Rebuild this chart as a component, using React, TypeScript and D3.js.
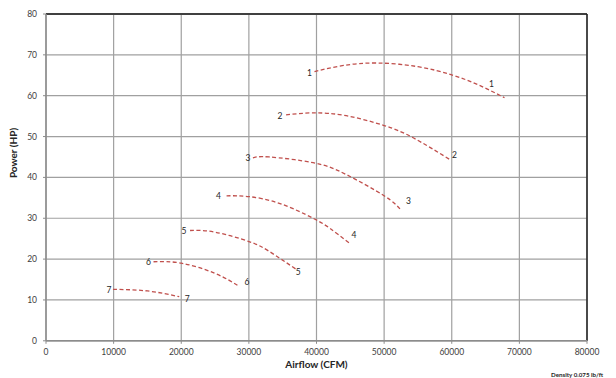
import React from "react";
import * as d3 from "d3";

const xTicks = [0, 10000, 20000, 30000, 40000, 50000, 60000, 70000, 80000];
const yTicks = [0, 10, 20, 30, 40, 50, 60, 70, 80];
const curveNames = ["1", "2", "3", "4", "5", "6", "7"];
const curveX = [
  [39700, 44000, 49000, 55000, 60000, 64000, 67800],
  [35500, 39500, 44400, 50000, 54300, 59800],
  [30600, 33000, 39500, 44400, 50000, 52400],
  [26700, 30000, 34600, 39500, 42000, 44800],
  [21300, 25000, 30000, 33000, 37000],
  [15900, 20000, 25000, 28400],
  [9900, 15000, 19700],
];
const curveY = [
  [65.9, 67.4, 68.0, 67.1, 65.1, 62.6, 59.5],
  [55.3, 55.8, 55.1, 52.7, 49.7, 44.3],
  [44.8, 45.0, 43.6, 40.7, 35.5, 32.2],
  [35.5, 35.3, 33.6, 30.0, 27.5, 24.0],
  [27.0, 26.6, 24.3, 21.9, 17.5],
  [19.35, 19.0, 16.5, 13.5],
  [12.6, 12.2, 10.8],
];

// label placement (pixel offsets, layout only)
const startLabelDx = [-5, -6, -5, -8, -6, -5, -4];
const startLabelDy = [1, 1, 0, 0, 0, 0, 1];
const endLabelDx = [-13, 4, 8, 5, 2, 9, 8];
const endLabelDy = [-14, -5, -8, -8, 3, -4, 2];

const W = 616, H = 378;
const left = 46, right = 587, top = 14, bottom = 340.8;

export default function App() {
  const x = d3.scaleLinear().domain([0, 80000]).range([left, right]);
  const y = d3.scaleLinear().domain([0, 80]).range([bottom, top]);
  const line = d3
    .line<[number, number]>()
    .x((d) => x(d[0]))
    .y((d) => y(d[1]))
    .curve(d3.curveNatural);
  const font = "Lato, 'Open Sans', sans-serif";
  return (
    <svg
      width={W}
      height={H}
      style={{ position: "fixed", left: 0, top: 0, background: "#fff" }}
      fontFamily={font}
    >
      {xTicks.map((t) => (
        <line key={"gx" + t} x1={x(t)} x2={x(t)} y1={top} y2={bottom} stroke="#a0a0a0" strokeWidth={1.2} />
      ))}
      {yTicks.map((t) => (
        <line key={"gy" + t} x1={left} x2={right} y1={y(t)} y2={y(t)} stroke="#a0a0a0" strokeWidth={1.2} />
      ))}
      <line x1={left} x2={right} y1={top} y2={top} stroke="#404040" strokeWidth={2} />
      <line x1={right} x2={right} y1={top} y2={bottom} stroke="#202020" strokeWidth={1.5} />
      <line x1={left} x2={left} y1={top} y2={bottom} stroke="#8c8c8c" strokeWidth={1.5} />
      <line x1={left} x2={right} y1={bottom} y2={bottom} stroke="#8c8c8c" strokeWidth={1.5} />
      {xTicks.map((t) => (
        <line key={"tx" + t} x1={x(t)} x2={x(t)} y1={bottom} y2={bottom + 3} stroke="#8c8c8c" />
      ))}
      {yTicks.map((t) => (
        <line key={"ty" + t} x1={left - 3} x2={left} y1={y(t)} y2={y(t)} stroke="#8c8c8c" />
      ))}
      {xTicks.map((t) => (
        <text key={"lx" + t} x={x(t)} y={bottom + 14} fontSize={8.5} fill="#404040" textAnchor="middle">
          {t}
        </text>
      ))}
      {yTicks.map((t) => (
        <text key={"ly" + t} x={left - 9} y={y(t) + 3} fontSize={8.5} fill="#404040" textAnchor="end">
          {t}
        </text>
      ))}
      <text x={(left + right) / 2} y={368} fontSize={10} fontWeight="bold" fill="#262626" textAnchor="middle">
        Airflow (CFM)
      </text>
      <text
        transform={`translate(17,153) rotate(-90)`}
        fontSize={10}
        fontWeight="bold"
        fill="#262626"
        textAnchor="middle"
      >
        Power (HP)
      </text>
      <text x={551} y={376.5} fontSize={6.2} fontWeight="bold" fill="#262626">
        Density 0.075 lb/ft
      </text>
      {curveNames.map((name, i) => {
        const pts: [number, number][] = curveX[i].map((v, j) => [v, curveY[i][j]]);
        const s = pts[0];
        const e = pts[pts.length - 1];
        return (
          <g key={"c" + name}>
            <path d={line(pts) || ""} fill="none" stroke="#c0504d" strokeWidth={1.3} strokeDasharray="4,2.5" />
            <text
              x={x(s[0]) + startLabelDx[i]}
              y={y(s[1]) + 3 + startLabelDy[i]}
              fontSize={8.5}
              fill="#262626"
              textAnchor="middle"
            >
              {name}
            </text>
            <text
              x={x(e[0]) + endLabelDx[i]}
              y={y(e[1]) + 3 + endLabelDy[i]}
              fontSize={8.5}
              fill="#262626"
              textAnchor="middle"
            >
              {name}
            </text>
          </g>
        );
      })}
    </svg>
  );
}
